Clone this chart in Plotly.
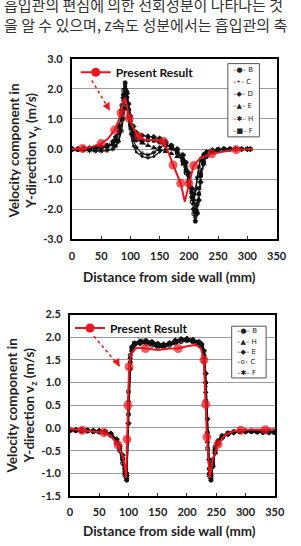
import plotly.graph_objects as go

# ---------------- data: upper chart (velocity component v_y) ----------------
TOP_X = [0, 10, 20, 30, 40, 50, 60, 70, 75, 80, 85, 88, 91, 94, 97, 100,
         105, 110, 120, 130, 140, 150, 160, 170, 180, 190, 195, 200, 205, 208, 211, 214,
         217, 220, 225, 230, 240, 250, 260, 270, 280, 290, 300, 305]
TOP_B = [0.0, 0.0, 0.0, 0.0, 0.02, 0.05, 0.08, 0.15,
         0.3, 0.6, 1.2, 1.8, 2.2, 1.9, 1.3, 0.8,
         0.45, 0.3, 0.25, 0.3, 0.3, 0.25, 0.15, 0.05,
         -0.1, -0.4, -0.7, -1.1, -1.6, -2.0, -2.4, -2.1,
         -1.5, -0.9, -0.45, -0.25, -0.1, -0.05, 0.0, 0.0,
         0.0, 0.0, 0.0, 0.0]
TOP_C = [-0.05, -0.05, -0.05, -0.05, -0.05, -0.05, -0.04, 0.0,
         0.1, 0.3, 0.8, 1.4, 1.9, 1.6, 1.0, 0.5,
         0.1, -0.1, -0.25, -0.3, -0.25, -0.1, 0.0, 0.0,
         -0.1, -0.3, -0.5, -0.9, -1.5, -1.7, -1.5, -1.0,
         -0.6, -0.3, -0.15, -0.08, -0.03, 0.0, 0.0, 0.0,
         0.0, 0.0, 0.0, 0.0]
TOP_D = [0.0, 0.0, 0.02, 0.03, 0.05, 0.08, 0.12, 0.25,
         0.4, 0.7, 1.3, 1.7, 2.0, 1.85, 1.5, 1.1,
         0.75, 0.55, 0.45, 0.42, 0.4, 0.35, 0.25, 0.12,
         0.0, -0.2, -0.45, -0.8, -1.3, -1.7, -2.0, -2.15,
         -1.7, -1.1, -0.5, -0.2, -0.08, -0.03, 0.0, 0.0,
         0.0, 0.0, 0.0, 0.0]
TOP_E = [0.0, 0.0, 0.0, 0.01, 0.02, 0.04, 0.07, 0.15,
         0.25, 0.5, 1.0, 1.5, 1.85, 1.75, 1.35, 0.95,
         0.55, 0.35, 0.2, 0.12, 0.05, -0.02, -0.08, -0.15,
         -0.25, -0.5, -0.75, -1.05, -1.45, -1.8, -2.1, -1.8,
         -1.3, -0.8, -0.4, -0.2, -0.08, -0.03, 0.0, 0.0,
         0.0, 0.0, 0.0, 0.0]
TOP_H = [0.0, -0.02, -0.04, -0.06, -0.07, -0.07, -0.05, 0.0,
         0.1, 0.25, 0.6, 1.0, 1.35, 1.4, 1.1, 0.7,
         0.3, 0.05, -0.15, -0.2, -0.12, 0.05, 0.15, 0.1,
         -0.05, -0.35, -0.6, -1.0, -1.4, -1.55, -1.35, -0.95,
         -0.6, -0.35, -0.18, -0.08, -0.02, 0.0, 0.0, 0.0,
         0.0, 0.0, 0.0, 0.0]
TOP_F = [0.0, 0.0, 0.01, 0.02, 0.04, 0.06, 0.1, 0.2,
         0.35, 0.75, 1.45, 1.95, 2.1, 1.7, 1.2, 0.85,
         0.5, 0.35, 0.3, 0.3, 0.28, 0.22, 0.12, 0.02,
         -0.15, -0.45, -0.8, -1.2, -1.75, -2.15, -2.25, -1.85,
         -1.3, -0.75, -0.35, -0.15, -0.05, -0.02, 0.0, 0.0,
         0.0, 0.0, 0.0, 0.0]
TOP_SERIES_NAMES = ["B", "C", "D", "E", "H", "F"]

RED_TOP_X = [0, 18, 35, 50, 62, 73, 80, 84, 88, 91, 94, 98, 105, 114, 125, 140,
             156, 165, 173, 180, 186, 193, 200, 205, 208, 220, 239, 260, 281, 300, 310]
RED_TOP_Y = [0.0, 0.02, 0.08, 0.18, 0.35, 0.63, 0.95, 1.2, 1.6, 1.7, 1.45, 1.02, 0.7, 0.42, 0.3, 0.3,
             0.26, -0.1, -0.53, -0.85, -1.14, -1.75, -1.14, -0.8, -0.55, -0.3, -0.16, -0.08, -0.02, -0.01, 0.0]
RED_TOP_MARKED = [18, 50, 73, 84, 98, 114, 156, 173, 186, 200, 208, 239, 281]

TOP_Y_TICKS = [-3, -2, -1, 0, 1, 2, 3]

# ---------------- data: lower chart (velocity component v_z) ----------------
BOT_X = [0, 10, 20, 30, 40, 50, 60, 70, 80,
         85, 90, 94, 97, 100, 103, 106, 110,
         120, 130, 140, 150, 160, 170, 180, 190, 200, 210, 220,
         225, 229, 232, 235, 238, 241, 244, 248, 253,
         260, 270, 280, 290, 300, 310, 320, 330, 340, 350]
BOT_B = [-0.05, -0.05, -0.06, -0.06, -0.07, -0.08, -0.1, -0.15, -0.3,
         -0.45, -0.7, -1.0, -1.15, 0.3, 1.45, 1.75, 1.85,
         1.9, 1.9, 1.87, 1.83, 1.82, 1.85, 1.9, 1.95, 1.95, 1.93, 1.88,
         1.82, 1.6, 1.0, -0.1, -0.9, -1.15, -0.8, -0.5, -0.32,
         -0.2, -0.13, -0.1, -0.08, -0.08, -0.08, -0.09, -0.1, -0.1, -0.1]
BOT_H = [-0.03, -0.04, -0.04, -0.05, -0.06, -0.07, -0.09, -0.14, -0.28,
         -0.42, -0.65, -0.95, -1.1, 0.6, 1.55, 1.8, 1.88,
         1.92, 1.88, 1.85, 1.8, 1.8, 1.84, 1.88, 1.92, 1.93, 1.9, 1.86,
         1.8, 1.55, 0.8, -0.3, -1.0, -1.1, -0.75, -0.45, -0.3,
         -0.18, -0.11, -0.08, -0.06, -0.06, -0.06, -0.07, -0.07, -0.08, -0.08]
BOT_E = [-0.04, -0.04, -0.05, -0.05, -0.06, -0.06, -0.08, -0.12, -0.25,
         -0.4, -0.6, -0.9, -1.05, 0.1, 1.3, 1.7, 1.82,
         1.88, 1.92, 1.9, 1.86, 1.84, 1.87, 1.93, 1.96, 1.97, 1.94, 1.9,
         1.85, 1.7, 1.2, 0.2, -0.7, -1.05, -0.85, -0.55, -0.35,
         -0.22, -0.14, -0.1, -0.08, -0.07, -0.07, -0.08, -0.08, -0.09, -0.09]
BOT_C = [-0.06, -0.06, -0.07, -0.07, -0.08, -0.09, -0.11, -0.17, -0.33,
         -0.5, -0.78, -1.05, -1.0, 0.8, 1.6, 1.78, 1.84,
         1.86, 1.86, 1.82, 1.78, 1.78, 1.82, 1.87, 1.9, 1.92, 1.9, 1.85,
         1.78, 1.45, 0.6, -0.45, -1.05, -1.0, -0.7, -0.42, -0.28,
         -0.17, -0.11, -0.08, -0.07, -0.07, -0.07, -0.08, -0.09, -0.09, -0.1]
BOT_F = [-0.05, -0.05, -0.05, -0.06, -0.07, -0.08, -0.1, -0.15, -0.31,
         -0.46, -0.72, -0.98, -1.12, 0.45, 1.5, 1.77, 1.87,
         1.93, 1.93, 1.88, 1.85, 1.83, 1.86, 1.91, 1.94, 1.96, 1.95, 1.9,
         1.83, 1.62, 0.95, -0.15, -0.95, -1.12, -0.78, -0.48, -0.31,
         -0.19, -0.12, -0.09, -0.07, -0.07, -0.07, -0.08, -0.09, -0.1, -0.1]
BOT_SERIES_NAMES = ["B", "H", "E", "C", "F"]

RED_BOT_X = [0, 21, 40, 58, 70, 82, 90, 93, 96, 97.5,
             99, 101, 105, 112, 120, 129, 150, 170, 185, 200,
             215, 224, 229, 232, 234, 239, 244, 253, 265, 280,
             292, 310, 334, 350]
RED_BOT_Y = [-0.02, -0.05, -0.07, -0.1, -0.18, -0.37, -0.62, -0.8, -1.1, -0.25,
             0.5, 1.35, 1.65, 1.75, 1.77, 1.75, 1.72, 1.75, 1.75, 1.8,
             1.83, 1.75, 1.5, 0.52, -0.2, -1.1, -0.7, -0.36, -0.15, -0.07,
             -0.05, -0.04, -0.04, -0.03]
RED_BOT_MARKED = [21, 58, 82, 97.5, 99, 101, 129, 185, 229, 232, 234, 253, 292, 334]

BOT_Y_TICKS = [-1.5, -1.0, -0.5, 0.0, 0.5, 1.0, 1.5, 2.0, 2.5]
X_TICKS = [0, 50, 100, 150, 200, 250, 300, 350]

KOREAN_LINES = ["흡입관의 편심에 의한 선회성분이 나타나는 것",
                "을 알 수 있으며, z속도 성분에서는 흡입관의 축"]

# ---------------- layout helpers ----------------
W, H = 301, 546
def px(v):
    return v / W
def py(v):
    return 1 - v / H

RED = "#e8161e"
BLACK = "#111111"
FONT = "Lato"

fig = go.Figure()

top_styles = {
    "B": dict(symbol="circle", size=4, dash="solid"),
    "C": dict(symbol="circle", size=2, dash="solid"),
    "D": dict(symbol="diamond", size=4, dash="dot"),
    "E": dict(symbol="triangle-up", size=4, dash="dot"),
    "H": dict(symbol="asterisk-open", size=4, dash="solid"),
    "F": dict(symbol="square-open", size=3, dash="dot"),
}
top_data = {"B": TOP_B, "C": TOP_C, "D": TOP_D, "E": TOP_E, "H": TOP_H, "F": TOP_F}
for name in TOP_SERIES_NAMES:
    st = top_styles[name]
    fig.add_trace(go.Scatter(
        x=TOP_X, y=top_data[name], mode="lines+markers", name=name, showlegend=False,
        line=dict(color=BLACK, width=1.2, dash=st["dash"]),
        marker=dict(color=BLACK, size=st["size"], symbol=st["symbol"],
                    line=dict(color=BLACK, width=1)),
        xaxis="x", yaxis="y"))

bot_styles = {
    "B": dict(symbol="circle", size=4),
    "H": dict(symbol="triangle-up", size=4),
    "E": dict(symbol="diamond", size=4),
    "C": dict(symbol="circle-open", size=4),
    "F": dict(symbol="x-thin-open", size=4),
}
bot_data = {"B": BOT_B, "H": BOT_H, "E": BOT_E, "C": BOT_C, "F": BOT_F}
for name in BOT_SERIES_NAMES:
    st = bot_styles[name]
    fig.add_trace(go.Scatter(
        x=BOT_X, y=bot_data[name], mode="lines+markers", name=name, showlegend=False,
        line=dict(color=BLACK, width=1.5),
        marker=dict(color=BLACK, size=st["size"], symbol=st["symbol"],
                    line=dict(color=BLACK, width=1)),
        xaxis="x2", yaxis="y2"))

# Present Result (red) traces
for rx, ry, marked, xa, ya, leg in [(RED_TOP_X, RED_TOP_Y, RED_TOP_MARKED, "x", "y", "legend"),
                                    (RED_BOT_X, RED_BOT_Y, RED_BOT_MARKED, "x2", "y2", "legend2")]:
    sizes = [9 if v in marked else 0 for v in rx]
    fig.add_trace(go.Scatter(
        x=rx, y=ry, mode="lines+markers", showlegend=False,
        line=dict(color=RED, width=2),
        marker=dict(color=RED, size=sizes, line=dict(width=0)),
        xaxis=xa, yaxis=ya))
    # legend proxy (no data)
    fig.add_trace(go.Scatter(
        x=[None], y=[None], mode="lines+markers", name="Present Result", legend=leg,
        line=dict(color=RED, width=2), marker=dict(color=RED, size=9),
        xaxis=xa, yaxis=ya))

tickfont = dict(family=FONT, size=11, color="#222", weight="bold")

def xaxis_cfg(x0, x1, anchor):
    return dict(domain=[px(x0), px(x1)], range=[0, 350], anchor=anchor,
                tickvals=X_TICKS, ticktext=[str(v) for v in X_TICKS],
                ticks="inside", ticklen=3, tickcolor="#333",
                showline=True, mirror=True, linecolor="black", linewidth=2,
                showgrid=False, zeroline=False, tickfont=tickfont, ticklabelstandoff=5,
                fixedrange=True)

def yaxis_cfg(y_top, y_bot, rng, ticks, anchor):
    return dict(domain=[py(y_bot), py(y_top)], range=rng, anchor=anchor,
                tickvals=ticks, ticktext=[f"{v:.1f}" for v in ticks],
                ticks="", showline=True, mirror=True, linecolor="black", linewidth=2,
                showgrid=True, gridcolor="#9c9c9c", gridwidth=1, zeroline=False,
                tickfont=tickfont, ticklabelstandoff=5, fixedrange=True)

annotations = []
# Korean running text (scanned page context)
for line, yy in zip(KOREAN_LINES, (-3, 18)):
    annotations.append(dict(x=px(-1), y=py(yy), xref="paper", yref="paper",
                            xanchor="left", yanchor="middle", showarrow=False, text=line,
                            font=dict(family="Noto Sans CJK KR", size=15, color="#333")))

title_font = dict(family=FONT, size=13.5, color="#222", weight="bold")
# Y titles
annotations.append(dict(x=px(21), y=py(148), xref="paper", yref="paper", textangle=-90,
                        showarrow=False, xanchor="center", yanchor="middle",
                        text="Velocity component in<br>Y-direction v<sub>y</sub> (m/s)",
                        font=title_font))
annotations.append(dict(x=px(19), y=py(409), xref="paper", yref="paper", textangle=-90,
                        showarrow=False, xanchor="center", yanchor="middle",
                        text="Velocity component in<br>Y-direction v<sub>z</sub> (m/s)",
                        font=title_font))
# X titles
for yy in (277, 537):
    annotations.append(dict(x=px(174), y=py(yy), xref="paper", yref="paper", showarrow=False,
                            xanchor="center", yanchor="middle",
                            text="Distance from side wall (mm)", font=title_font))

# black-series legend boxes built from annotations
shapes = []
leg_sym_top = {"B": "●", "C": "•", "D": "◆", "E": "▲", "H": "✱", "F": "■"}
leg_sym_bot = {"B": "●", "H": "▲", "E": "◆", "C": "o", "F": "✱"}
for names, syms, (bx0, by0, bx1, by1) in [(TOP_SERIES_NAMES, leg_sym_top, (235, 58, 268, 133)),
                                          (BOT_SERIES_NAMES, leg_sym_bot, (239, 327, 275, 380))]:
    shapes.append(dict(type="rect", xref="paper", yref="paper",
                       x0=px(bx0), x1=px(bx1), y0=py(by1), y1=py(by0),
                       line=dict(color="#555", width=1), fillcolor="white"))
    step = (by1 - by0) / len(names)
    for i, n in enumerate(names):
        yc = by0 + step * (i + 0.5)
        annotations.append(dict(x=px(bx0 + 3), y=py(yc), xref="paper", yref="paper",
                                xanchor="left", yanchor="middle", showarrow=False,
                                text=f"–{syms[n]}– {n}",
                                font=dict(family="DejaVu Sans", size=7, color="#222")))

# dashed red arrows pointing from the label to the curve
for (sx, sy, ex, ey, xr, yr) in [(34, 2.28, 65, 1.27, "x", "y"), (41, 2.02, 85, 1.35, "x2", "y2")]:
    shapes.append(dict(type="line", xref=xr, yref=yr, x0=sx, y0=sy, x1=ex, y1=ey,
                       line=dict(color=RED, width=1.5, dash="dot")))
    annotations.append(dict(x=ex, y=ey, xref=xr, yref=yr, text="", showarrow=True,
                            ax=-4, ay=-7, arrowhead=2, arrowsize=1.2, arrowwidth=1.3,
                            arrowcolor=RED))

legend_common = dict(bgcolor="rgba(0,0,0,0)", borderwidth=0, xanchor="left", yanchor="top",
                     font=dict(family=FONT, size=12, color="#111", weight="bold"), itemwidth=30)

fig.update_layout(
    width=W, height=H, autosize=False,
    margin=dict(l=0, r=0, t=0, b=0),
    paper_bgcolor="white", plot_bgcolor="white",
    xaxis=xaxis_cfg(72, 286, "y"),
    yaxis=yaxis_cfg(53, 238, [-3, 3], TOP_Y_TICKS, "x"),
    xaxis2=xaxis_cfg(70, 284, "y2"),
    yaxis2=yaxis_cfg(315, 501, [-1.5, 2.5], BOT_Y_TICKS, "x2"),
    legend=dict(x=px(76), y=py(52), **legend_common),
    legend2=dict(x=px(70), y=py(314), **legend_common),
    annotations=annotations,
    shapes=shapes,
    showlegend=True,
)

fig.write_html("out.html")
